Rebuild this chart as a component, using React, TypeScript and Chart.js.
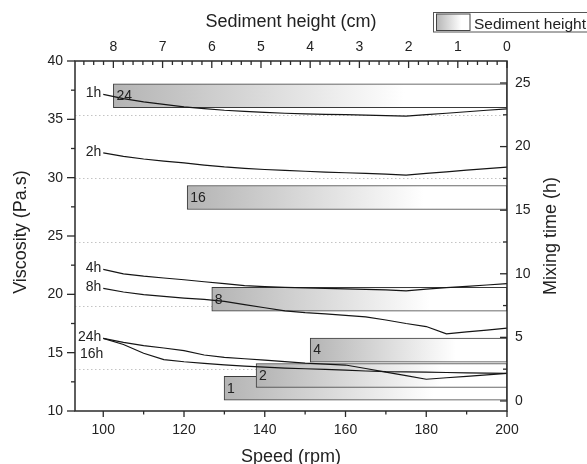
import React, { useEffect, useRef } from "react";
import { Chart, registerables } from "chart.js";

Chart.register(...registerables);

const FONT = "'Liberation Sans', Arial, sans-serif";
const TEXT = "#222";

// Speed (rpm) sample points
const speeds = [100, 105, 110, 115, 120, 125, 130, 135, 140, 145, 150, 155, 160, 165, 170, 175, 180, 185, 190, 195, 200];

// Viscosity (Pa.s) per mixing time
const visc1h = [37.14, 36.78, 36.5, 36.28, 36.07, 35.92, 35.78, 35.68, 35.6, 35.52, 35.47, 35.43, 35.4, 35.36, 35.32, 35.28, 35.4, 35.52, 35.65, 35.78, 35.9];
const visc2h = [32.13, 31.83, 31.6, 31.42, 31.26, 31.08, 30.92, 30.8, 30.7, 30.62, 30.55, 30.48, 30.42, 30.36, 30.3, 30.22, 30.36, 30.5, 30.64, 30.78, 30.9];
const visc4h = [22.14, 21.76, 21.56, 21.4, 21.25, 21.08, 20.92, 20.74, 20.66, 20.6, 20.56, 20.51, 20.46, 20.42, 20.38, 20.3, 20.45, 20.57, 20.68, 20.8, 20.92];
const visc8h = [20.51, 20.2, 19.98, 19.82, 19.68, 19.57, 19.4, 19.12, 18.85, 18.58, 18.43, 18.32, 18.2, 18.06, 17.8, 17.5, 17.24, 16.62, 16.78, 16.94, 17.1];
const visc24h = [16.23, 15.88, 15.6, 15.4, 15.18, 14.8, 14.6, 14.48, 14.36, 14.24, 14.1, 14.02, 13.94, 13.64, 13.33, 13.03, 12.72, 12.85, 12.97, 13.1, 13.23];
const visc16h = [16.23, 15.7, 14.95, 14.4, 14.22, 14.09, 13.96, 13.85, 13.76, 13.68, 13.62, 13.56, 13.5, 13.43, 13.37, 13.35, 13.33, 13.3, 13.27, 13.25, 13.23];

const curveNames = ["1h", "2h", "4h", "8h", "24h", "16h"];
const curveSeries = [visc1h, visc2h, visc4h, visc8h, visc24h, visc16h];

// Sediment height bars (mixing time h -> sediment height cm)
const mixingTimes = [24, 16, 8, 4, 1, 2];
const sedimentHeights = [8.0, 6.5, 6.0, 4.0, 5.75, 5.1];

// Axis ticks
const speedTicks = [100, 120, 140, 160, 180, 200];
const heightTicks = [0, 1, 2, 3, 4, 5, 6, 7, 8];
const viscTicks = [10, 15, 20, 25, 30, 35, 40];
const timeTicks = [0, 5, 10, 15, 20, 25];

const BAR_GRAY = "rgb(180,180,180)";

function minorsOf(majors: number[], parts: number, lo: number, hi: number) {
  const step = (majors[1] - majors[0]) / parts;
  const out: number[] = [];
  const start = majors[0] - step * Math.ceil((majors[0] - lo) / step);
  for (let v = start; v <= hi + 1e-9; v += step) {
    const r = Math.round(v * 1000) / 1000;
    if (!majors.some((m) => Math.abs(m - r) < 1e-6) && r >= lo - 1e-9) out.push(r);
  }
  return out;
}

const decoPlugin = {
  id: "deco",
  beforeDatasetsDraw(chart: any) {
    const { ctx, chartArea: a, scales } = chart;
    const yr = scales.yRight;
    ctx.save();
    ctx.strokeStyle = "#c4c4c4";
    ctx.lineWidth = 1;
    ctx.setLineDash([1.5, 2.5]);
    for (const v of minorsOf(timeTicks, 2, yr.min, yr.max)) {
      const y = Math.round(yr.getPixelForValue(v)) + 0.5;
      ctx.beginPath();
      ctx.moveTo(a.left, y);
      ctx.lineTo(a.right, y);
      ctx.stroke();
    }
    ctx.restore();
  },
  afterDatasetsDraw(chart: any) {
    const { ctx, chartArea: a, scales } = chart;
    ctx.save();
    // bar labels
    ctx.font = `14px ${FONT}`;
    ctx.fillStyle = TEXT;
    ctx.textBaseline = "middle";
    ctx.textAlign = "left";
    const meta = chart.getDatasetMeta(0);
    meta.data.forEach((el: any, i: number) => {
      const p = el.getProps(["x", "y", "base"], true);
      ctx.fillText(String(mixingTimes[i]), Math.min(p.x, p.base) + 3, p.y + 0.5);
    });
    // curve labels
    ctx.textAlign = "right";
    const xs = scales.x;
    const ys = scales.y;
    curveSeries.forEach((s, i) => {
      const px = xs.getPixelForValue(speeds[0]);
      const py = ys.getPixelForValue(s[0]);
      const dy = curveNames[i] === "16h" ? 16 : -1;
      const dx = curveNames[i] === "16h" ? 2 : 0;
      ctx.fillText(curveNames[i], px - 2 + dx, py + dy);
    });
    // frame
    ctx.strokeStyle = "#2a2a2a";
    ctx.lineWidth = 1.5;
    ctx.strokeRect(a.left, a.top, a.right - a.left, a.bottom - a.top);
    // ticks
    ctx.lineWidth = 1.3;
    const tick = (x1: number, y1: number, x2: number, y2: number) => {
      ctx.beginPath();
      ctx.moveTo(x1, y1);
      ctx.lineTo(x2, y2);
      ctx.stroke();
    };
    const yr = scales.yRight;
    const xt = scales.xTop;
    viscTicks.forEach((v) => { const y = ys.getPixelForValue(v); tick(a.left - 8, y, a.left, y); });
    minorsOf(viscTicks, 2, ys.min, ys.max).forEach((v) => { const y = ys.getPixelForValue(v); tick(a.left - 4, y, a.left, y); });
    timeTicks.forEach((v) => { const y = yr.getPixelForValue(v); tick(a.right - 7, y, a.right, y); });
    minorsOf(timeTicks, 2, yr.min, yr.max).forEach((v) => { const y = yr.getPixelForValue(v); tick(a.right - 4, y, a.right, y); });
    speedTicks.forEach((v) => { const x = xs.getPixelForValue(v); tick(x, a.bottom, x, a.bottom + 6); });
    minorsOf(speedTicks, 2, xs.min, xs.max).forEach((v) => { const x = xs.getPixelForValue(v); tick(x, a.bottom, x, a.bottom + 3.5); });
    heightTicks.forEach((v) => { const x = xt.getPixelForValue(v); tick(x, a.top, x, a.top + 7); });
    minorsOf(heightTicks, 5, xt.min, xt.max).forEach((v) => { const x = xt.getPixelForValue(v); tick(x, a.top, x, a.top + 4); });
    ctx.restore();
  },
  afterDraw(chart: any) {
    const { ctx, chartArea: a } = chart;
    const cx = (a.left + a.right) / 2;
    const cy = (a.top + a.bottom) / 2;
    ctx.save();
    ctx.fillStyle = TEXT;
    ctx.font = `18px ${FONT}`;
    ctx.textAlign = "center";
    ctx.textBaseline = "alphabetic";
    ctx.fillText("Sediment height (cm)", cx, 27);
    ctx.fillText("Speed (rpm)", cx, 462);
    ctx.save();
    ctx.translate(26, cy - 4);
    ctx.rotate(-Math.PI / 2);
    ctx.fillText("Viscosity (Pa.s)", 0, 0);
    ctx.restore();
    ctx.save();
    ctx.translate(556, cy);
    ctx.rotate(-Math.PI / 2);
    ctx.fillText("Mixing time (h)", 0, 0);
    ctx.restore();
    // legend
    ctx.fillStyle = "#fff";
    ctx.fillRect(433.5, 12.5, 170, 19.5);
    ctx.strokeStyle = "#555";
    ctx.lineWidth = 1;
    ctx.strokeRect(433.5, 12.5, 170, 19.5);
    const g = ctx.createLinearGradient(436, 0, 470, 0);
    g.addColorStop(0, BAR_GRAY);
    g.addColorStop(0.75, "#fff");
    g.addColorStop(1, "#fff");
    ctx.fillStyle = g;
    ctx.fillRect(436.5, 14, 33.5, 16.5);
    ctx.strokeStyle = "#444";
    ctx.strokeRect(436.5, 14, 33.5, 16.5);
    ctx.fillStyle = TEXT;
    ctx.font = `15.5px ${FONT}`;
    ctx.textAlign = "left";
    ctx.fillText("Sediment height", 474, 29);
    ctx.restore();
  },
};

export default function App() {
  const ref = useRef<HTMLCanvasElement>(null);
  useEffect(() => {
    const canvas = ref.current;
    if (!canvas) return;
    const tickFont = { family: FONT, size: 14 };
    const lineDatasets = curveSeries.map((s, i) => ({
      type: "line" as const,
      label: curveNames[i],
      xAxisID: "x",
      yAxisID: "y",
      data: s.map((v, j) => ({ x: speeds[j], y: v })),
      borderColor: "#151515",
      borderWidth: 1.2,
      pointRadius: 0,
      tension: 0,
      fill: false,
      order: 1,
    }));
    const barDataset: any = {
      type: "bar",
      label: "Sediment height",
      indexAxis: "y",
      xAxisID: "xTop",
      yAxisID: "yRight",
      data: mixingTimes.map((t, i) => ({ x: sedimentHeights[i], y: t })),
      grouped: false,
      barThickness: 24,
      borderWidth: 1,
      borderColor: "#3a3a3a",
      borderSkipped: false,
      order: 2,
      backgroundColor: (c: any) => {
        const ch = c.chart;
        const i = c.dataIndex;
        const xt = ch.scales && ch.scales.xTop;
        if (i === undefined || !xt) return BAR_GRAY;
        const x0 = xt.getPixelForValue(sedimentHeights[i]);
        const x1 = xt.getPixelForValue(0);
        if (!isFinite(x0) || !isFinite(x1)) return BAR_GRAY;
        const g = ch.ctx.createLinearGradient(x0, 0, x1, 0);
        g.addColorStop(0, BAR_GRAY);
        g.addColorStop(0.74, "#ffffff");
        g.addColorStop(1, "#ffffff");
        return g;
      },
    };
    const common = {
      type: "linear" as const,
      offset: false,
      grid: { display: false, drawTicks: false },
      border: { display: false },
    };
    const chart = new Chart(canvas, {
      type: "line",
      data: { datasets: [barDataset, ...lineDatasets] as any },
      options: {
        responsive: false,
        animation: false,
        devicePixelRatio: 1,
        layout: { padding: 0, autoPadding: false } as any,
        plugins: { legend: { display: false }, tooltip: { enabled: false } },
        scales: {
          x: {
            ...common,
            position: "bottom",
            min: 93,
            max: 200,
            ticks: { font: tickFont, color: TEXT, padding: 10.6, maxRotation: 0, autoSkip: false, callback: (v: any) => String(v) },
            afterBuildTicks: (s: any) => { s.ticks = speedTicks.map((v) => ({ value: v })); },
            afterFit: (s: any) => { s.height = 53; },
          },
          xTop: {
            ...common,
            axis: "x",
            position: "top",
            reverse: true,
            min: 0,
            max: 8.78,
            ticks: { font: tickFont, color: TEXT, padding: 5.8, maxRotation: 0, autoSkip: false, callback: (v: any) => String(v) },
            afterBuildTicks: (s: any) => { s.ticks = heightTicks.map((v) => ({ value: v })); },
            afterFit: (s: any) => { s.height = 61; },
          },
          y: {
            ...common,
            position: "left",
            min: 10,
            max: 40,
            ticks: { font: tickFont, color: TEXT, padding: 12, autoSkip: false, callback: (v: any) => String(v) },
            afterBuildTicks: (s: any) => { s.ticks = viscTicks.map((v) => ({ value: v })); },
            afterFit: (s: any) => { s.width = 75; },
          },
          yRight: {
            ...common,
            axis: "y",
            position: "right",
            min: -0.79,
            max: 26.73,
            ticks: { font: tickFont, color: TEXT, padding: 8, autoSkip: false, callback: (v: any) => String(v) },
            afterBuildTicks: (s: any) => { s.ticks = timeTicks.map((v) => ({ value: v })); },
            afterFit: (s: any) => { s.width = 80; },
          },
        } as any,
      },
      plugins: [decoPlugin],
    });
    return () => chart.destroy();
  }, []);
  return (
    <div style={{ position: "fixed", left: 0, top: 0, width: 587, height: 464, background: "#fff" }}>
      <canvas ref={ref} width={587} height={464} style={{ display: "block", width: 587, height: 464 }} />
    </div>
  );
}
